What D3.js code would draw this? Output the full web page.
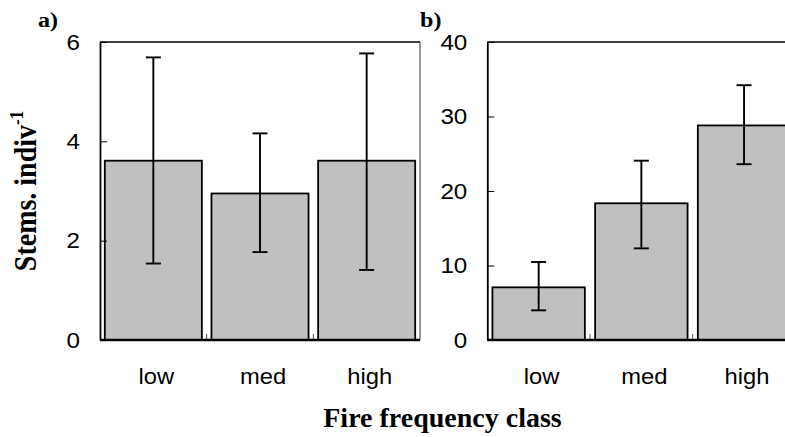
<!DOCTYPE html>
<html>
<head>
<meta charset="utf-8">
<script src="https://cdn.jsdelivr.net/npm/d3@7"></script>
<style>
  html, body { margin: 0; padding: 0; background: #fff; }
  svg { display: block; }
</style>
</head>
<body>
<svg id="chart" width="785" height="437"></svg>
<script>
// Fire frequency classes shared by both panels
const categories = ["low", "med", "high"];

// Panel a: stems per individual (mean, lower and upper error limits)
const stemsMean  = [3.61, 2.95, 3.61];
const stemsLower = [1.54, 1.77, 1.41];
const stemsUpper = [5.69, 4.16, 5.77];
const stemsTicks = [0, 2, 4, 6];

// Panel b: second response (mean, lower and upper error limits)
const respMean  = [7.07, 18.35, 28.8];
const respLower = [3.98, 12.3, 23.6];
const respUpper = [10.47, 24.07, 34.2];
const respTicks = [0, 10, 20, 30, 40];

const panelLabels = ["a)", "b)"];

const svg = d3.select("#chart");
const SANS = "'Liberation Sans', Arial, sans-serif";
const SERIF = "'Liberation Serif', 'Times New Roman', serif";
const BAR_FILL = "#c0c0c0";

const plotTop = 42, plotBottom = 340;

function drawPanel(cfg) {
  const g = svg.append("g");
  const x = d3.scaleBand()
    .domain(categories)
    .range([cfg.left, cfg.left + 3 * cfg.step])
    .paddingInner(cfg.padIn)
    .paddingOuter(cfg.padOut);
  const y = d3.scaleLinear().domain(cfg.domain).range([plotBottom, plotTop]);

  // frame: top border and right border
  g.append("line")
    .attr("x1", cfg.left).attr("x2", cfg.left + 3 * cfg.step)
    .attr("y1", plotTop).attr("y2", plotTop)
    .attr("stroke", "#000").attr("stroke-width", 1.6);
  if (cfg.rightBorder) {
    g.append("line")
      .attr("x1", cfg.left + 3 * cfg.step).attr("x2", cfg.left + 3 * cfg.step)
      .attr("y1", plotTop).attr("y2", plotBottom)
      .attr("stroke", "#333").attr("stroke-width", 1);
  }

  // bars
  g.selectAll("rect.bar").data(cfg.mean).join("rect")
    .attr("class", "bar")
    .attr("x", (d, i) => x(categories[i]))
    .attr("width", x.bandwidth())
    .attr("y", d => y(d))
    .attr("height", d => y(0) - y(d))
    .attr("fill", BAR_FILL)
    .attr("stroke", "#000")
    .attr("stroke-width", 1.8);

  // error bars
  const cx = i => x(categories[i]) + x.bandwidth() / 2;
  const capHalf = 7.5;
  const eb = g.selectAll("g.err").data(cfg.mean).join("g").attr("class", "err")
    .attr("stroke", "#000").attr("stroke-width", 1.9);
  eb.append("line")
    .attr("x1", (d, i) => cx(i)).attr("x2", (d, i) => cx(i))
    .attr("y1", (d, i) => y(cfg.lower[i])).attr("y2", (d, i) => y(cfg.upper[i]));
  eb.append("line")
    .attr("x1", (d, i) => cx(i) - capHalf).attr("x2", (d, i) => cx(i) + capHalf)
    .attr("y1", (d, i) => y(cfg.upper[i])).attr("y2", (d, i) => y(cfg.upper[i]));
  eb.append("line")
    .attr("x1", (d, i) => cx(i) - capHalf).attr("x2", (d, i) => cx(i) + capHalf)
    .attr("y1", (d, i) => y(cfg.lower[i])).attr("y2", (d, i) => y(cfg.lower[i]));

  // category boundary ticks on the x axis
  const bounds = categories.slice(1).map(c => x(c) - x.step() * x.paddingInner() / 2);
  g.selectAll("line.bound").data(bounds).join("line")
    .attr("class", "bound")
    .attr("x1", d => d).attr("x2", d => d)
    .attr("y1", plotBottom).attr("y2", plotBottom - 6)
    .attr("stroke", "#555").attr("stroke-width", 1);

  // x axis (labels only; baseline drawn separately)
  const xAxis = g.append("g")
    .attr("transform", `translate(0,${plotBottom})`)
    .call(d3.axisBottom(x).tickSize(0).tickPadding(28));
  xAxis.select(".domain").remove();
  xAxis.selectAll("text")
    .attr("font-family", SANS).attr("font-size", 22).attr("fill", "#000")
    .attr("transform", "translate(3,0) scale(1.08,1)");

  g.append("line")
    .attr("x1", cfg.left).attr("x2", cfg.left + 3 * cfg.step)
    .attr("y1", plotBottom).attr("y2", plotBottom)
    .attr("stroke", "#000").attr("stroke-width", 2.6);

  // y axis with inward ticks
  const yAxis = g.append("g")
    .attr("transform", `translate(${cfg.left},0)`)
    .call(d3.axisLeft(y).tickValues(cfg.ticks).tickFormat(d3.format("d"))
      .tickSize(-7).tickSizeOuter(0).tickPadding(20));
  yAxis.select(".domain").attr("stroke", "#000").attr("stroke-width", 1.8);
  yAxis.selectAll(".tick line").attr("stroke", "#000").attr("stroke-width", 1);
  yAxis.selectAll(".tick text")
    .attr("font-family", SANS).attr("font-size", 22).attr("fill", "#000")
    .attr("x", -20 / 1.1)
    .attr("transform", "scale(1.1,1)");

  // panel label
  svg.append("text")
    .attr("transform", `translate(${cfg.labelX},27) scale(1.15,1)`)
    .attr("font-family", SERIF).attr("font-weight", "bold").attr("font-size", 21)
    .text(cfg.label);
}

drawPanel({
  left: 100, step: 320 / 3, padIn: 0.09, padOut: 0.045, domain: [0, 6],
  mean: stemsMean, lower: stemsLower, upper: stemsUpper, ticks: stemsTicks,
  rightBorder: true, label: panelLabels[0], labelX: 38
});

drawPanel({
  left: 487.3, step: 102.7, padIn: 0.1, padOut: 0.05, domain: [0, 40],
  mean: respMean, lower: respLower, upper: respUpper, ticks: respTicks,
  rightBorder: false, label: panelLabels[1], labelX: 420
});

// y axis title with superscript
const yTitle = svg.append("text")
  .attr("transform", "translate(35.5,191) scale(1.12,1) rotate(-90)")
  .attr("text-anchor", "middle")
  .attr("font-family", SERIF).attr("font-weight", "bold").attr("font-size", 28);
yTitle.append("tspan").text("Stems. indiv");
yTitle.append("tspan").attr("font-size", 17).attr("dy", -11).text("-1");

// x axis title
svg.append("text")
  .attr("x", 442.5).attr("y", 427)
  .attr("text-anchor", "middle")
  .attr("font-family", SERIF).attr("font-weight", "bold").attr("font-size", 28)
  .text("Fire frequency class");
</script>
</body>
</html>
